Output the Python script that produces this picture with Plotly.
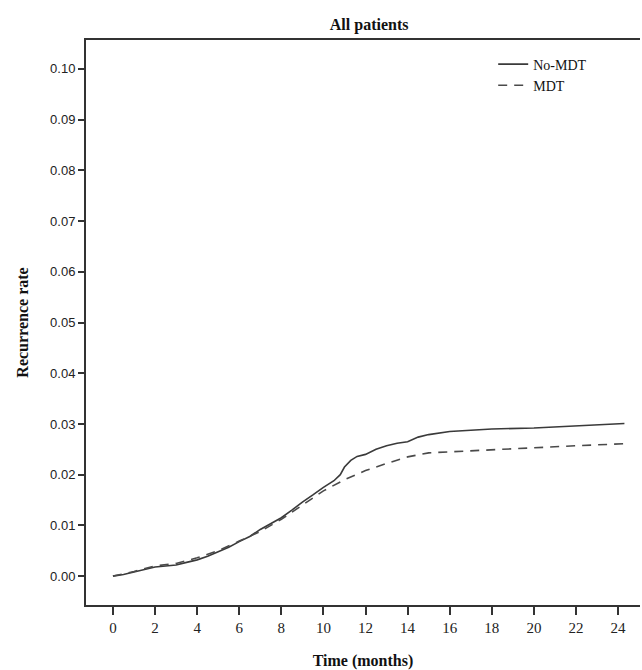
import plotly.graph_objects as go

months_nomdt = [0, 0.5, 1, 1.5, 2, 2.5, 3, 3.5, 4, 4.5, 5, 5.5, 6, 6.5, 7, 7.5, 8, 8.5, 9, 9.5, 10, 10.5, 10.8, 11, 11.3, 11.6, 12, 12.5, 13, 13.5, 14, 14.5, 15, 16, 17, 18, 20, 22, 24.3]
rate_nomdt = [0.0000, 0.0003, 0.0008, 0.0013, 0.0018, 0.0020, 0.0022, 0.0027, 0.0032, 0.0039, 0.0048, 0.0057, 0.0068, 0.0078, 0.0092, 0.0104, 0.0115, 0.0130, 0.0146, 0.0160, 0.0175, 0.0188, 0.0200, 0.0215, 0.0228, 0.0236, 0.0240, 0.0250, 0.0257, 0.0262, 0.0265, 0.0274, 0.0279, 0.0285, 0.0288, 0.0290, 0.0292, 0.0296, 0.0301]

months_mdt = [0, 1, 2, 3, 4, 5, 6, 7, 8, 9, 10, 11, 12, 13, 14, 15, 16, 18, 20, 22, 24.3]
rate_mdt = [0.0000, 0.0009, 0.0020, 0.0025, 0.0036, 0.0050, 0.0069, 0.0088, 0.0112, 0.0140, 0.0168, 0.0190, 0.0208, 0.0222, 0.0235, 0.0243, 0.0245, 0.0250, 0.0254, 0.0257, 0.0261]

x_ticks = list(range(0, 25, 2))
y_ticks = [0.00, 0.01, 0.02, 0.03, 0.04, 0.05, 0.06, 0.07, 0.08, 0.09, 0.10]

serif = "Liberation Serif, Times New Roman, serif"
sans = "Liberation Sans, Arial, sans-serif"

fig = go.Figure()
fig.add_trace(go.Scatter(x=months_nomdt, y=rate_nomdt, mode="lines", name="No-MDT",
                         line=dict(color="#3a3a3a", width=1.6)))
fig.add_trace(go.Scatter(x=months_mdt, y=rate_mdt, mode="lines", name="MDT",
                         line=dict(color="#4a4a4a", width=1.6, dash="9px,7px")))

fig.update_layout(
    width=642, height=670,
    margin=dict(l=86, r=2, t=40, b=65),
    paper_bgcolor="white", plot_bgcolor="white",
    title=dict(text="<b>All patients</b>", x=0.575, xanchor="center", y=0.964, yanchor="middle",
               font=dict(family=serif, size=16, color="#111")),
    legend=dict(x=0.735, y=0.985, xanchor="left", yanchor="top", bgcolor="rgba(0,0,0,0)",
                font=dict(family=serif, size=14, color="#111"), tracegroupgap=0,
                itemwidth=30),
    showlegend=True,
)
fig.update_xaxes(range=[-1.28, 25.04], tickvals=x_ticks, ticktext=[str(v) for v in x_ticks],
                 showgrid=False, zeroline=False, showline=True, linecolor="#333", linewidth=2,
                 mirror=True, ticks="outside", ticklen=8, tickwidth=1.5, tickcolor="#333",
                 tickfont=dict(family=serif, size=15, color="#222"),
                 title=dict(text="<b>Time (months)</b>", font=dict(family=serif, size=16, color="#111"), standoff=20))
fig.update_yaxes(range=[-0.0057, 0.1057], tickvals=y_ticks, ticktext=[f"{v:.2f}" for v in y_ticks],
                 showgrid=False, zeroline=False, showline=True, linecolor="#333", linewidth=2,
                 ticks="outside", ticklen=6, tickwidth=1.5, tickcolor="#333",
                 tickfont=dict(family=sans, size=13, color="#222"),
                 title=dict(text="<b>Recurrence rate</b>", font=dict(family=serif, size=16, color="#111"), standoff=17))

fig.write_html("out.html")
